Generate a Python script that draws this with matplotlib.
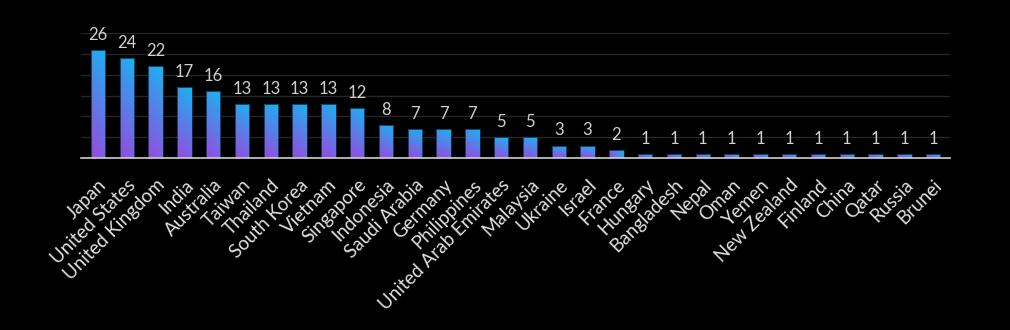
import numpy as np
import matplotlib
matplotlib.use("Agg")
import matplotlib.pyplot as plt
from matplotlib.colors import LinearSegmentedColormap

countries = ["Japan", "United States", "United Kingdom", "India", "Australia", "Taiwan",
             "Thailand", "South Korea", "Vietnam", "Singapore", "Indonesia", "Saudi Arabia",
             "Germany", "Philippines", "United Arab Emirates", "Malaysia", "Ukraine", "Israel",
             "France", "Hungary", "Bangladesh", "Nepal", "Oman", "Yemen", "New Zealand",
             "Finland", "China", "Qatar", "Russia", "Brunei"]
counts = [26, 24, 22, 17, 16, 13, 13, 13, 13, 12, 8, 7, 7, 7, 5, 5, 3, 3, 2,
          1, 1, 1, 1, 1, 1, 1, 1, 1, 1, 1]

plt.rcParams["font.family"] = ["Lato", "DejaVu Sans"]

cmap = LinearSegmentedColormap.from_list("grad", ["#9a48e0", "#18b4f0"])

fig = plt.figure(figsize=(10.1, 3.3), dpi=100, facecolor="black")
ax = fig.add_axes([0.080, 0.521, 0.861, 0.379], facecolor="black")

x = np.arange(len(countries))
width = 0.5
bars = ax.bar(x, counts, width=width, color="none", edgecolor="#0b3550", linewidth=0.6, zorder=3)

# gradient fill, running from bottom-left to top-right of each bar
u = np.linspace(0, 1, 50)
gu, gv = np.meshgrid(u, u)
for b in bars:
    x0, y0 = b.get_x(), b.get_y()
    w, h = b.get_width(), b.get_height()
    if h < 3:
        g = (gu + 0.3 * gv) / 1.3
    else:
        g = (0.25 * gu + gv) / 1.25
    im = ax.imshow(g, cmap=cmap, origin="lower", extent=[x0, x0 + w, y0, y0 + h],
                   aspect="auto", zorder=2, interpolation="bilinear")
    im.set_clip_path(b)

for xi, c in zip(x, counts):
    ax.text(xi, c + 1.7, str(c), ha="center", va="bottom", color="#d0d0d0",
            fontsize=12, zorder=4)

ax.set_xlim(-0.6, len(countries) - 0.4)
ax.set_ylim(0, 30)
ax.set_yticks([5, 10, 15, 20, 25, 30])
ax.yaxis.grid(True, color="#262626", linewidth=1)
ax.set_axisbelow(True)
ax.tick_params(axis="y", left=False, labelleft=False)
ax.tick_params(axis="x", length=0, pad=13)
ax.set_xticks(x)
ax.set_xticklabels(countries, rotation=45, ha="right", rotation_mode="anchor",
                   color="#e0e0e0", fontsize=13.5)
for s in ["top", "right", "left"]:
    ax.spines[s].set_visible(False)
ax.spines["bottom"].set_color("#d0d0d0")
ax.spines["bottom"].set_linewidth(1.2)
ax.spines["bottom"].set_zorder(5)

fig.savefig("out.png", facecolor="black")
